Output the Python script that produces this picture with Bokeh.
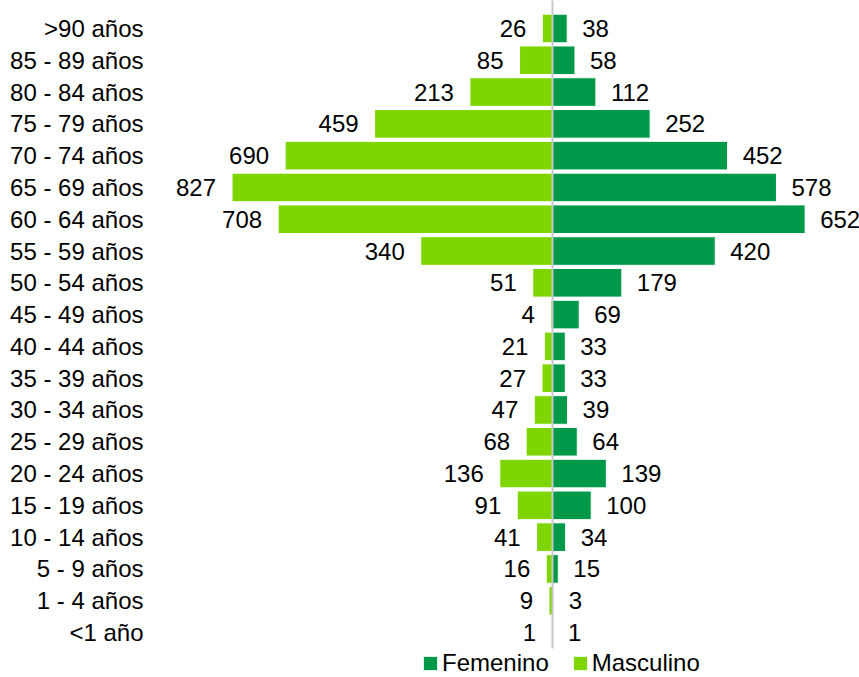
from bokeh.plotting import figure
from bokeh.models import ColumnDataSource, Range1d, FixedTicker, Legend, LegendItem
from bokeh.core.properties import value
from bokeh.embed import file_html
from bokeh.resources import INLINE

categories = [">90 años", "85 - 89 años", "80 - 84 años", "75 - 79 años", "70 - 74 años",
              "65 - 69 años", "60 - 64 años", "55 - 59 años", "50 - 54 años", "45 - 49 años",
              "40 - 44 años", "35 - 39 años", "30 - 34 años", "25 - 29 años", "20 - 24 años",
              "15 - 19 años", "10 - 14 años", "5 - 9 años", "1 - 4 años", "<1 año"]
masculino = [26, 85, 213, 459, 690, 827, 708, 340, 51, 4, 21, 27, 47, 68, 136, 91, 41, 16, 9, 1]
femenino = [38, 58, 112, 252, 452, 578, 652, 420, 179, 69, 33, 33, 39, 64, 139, 100, 34, 15, 3, 1]

FONT = "Liberation Sans"
FS = "24px"
C_FEM = "#00994A"
C_MAS = "#7ED500"

n = len(categories)
ypos = [n - 1 - i for i in range(n)]

src = ColumnDataSource(dict(
    y=ypos,
    fem=femenino,
    mas=[-v for v in masculino],
    fem_lbl=[str(v) for v in femenino],
    mas_lbl=[str(v) for v in masculino],
))

p = figure(width=859, height=677, output_backend="svg", toolbar_location=None,
           x_range=Range1d(-1024.5, 792.3), y_range=Range1d(-1.415, n - 1 + 0.88),
           min_border_left=155, min_border_right=0, min_border_top=0, min_border_bottom=0)

r_fem = p.hbar(y="y", left=0, right="fem", height=0.9, source=src,
               fill_color=C_FEM, line_color="white", line_width=1)
r_mas = p.hbar(y="y", left="mas", right=0, height=0.9, source=src,
               fill_color=C_MAS, line_color="white", line_width=1)

p.segment(x0=0, y0=-0.5, x1=0, y1=n, line_color="#C8C8C8", line_width=2)

p.text(x="fem", y="y", text="fem_lbl", source=src, x_offset=15, text_align="left",
       text_baseline="middle", text_font=value(FONT), text_font_size=FS, text_color="#000000")
p.text(x="mas", y="y", text="mas_lbl", source=src, x_offset=-16, text_align="right",
       text_baseline="middle", text_font=value(FONT), text_font_size=FS, text_color="#000000")

p.xaxis.visible = False
p.xgrid.visible = False
p.ygrid.visible = False
p.outline_line_color = None

ax = p.yaxis[0]
ax.ticker = FixedTicker(ticks=ypos)
ax.major_label_overrides = {y: c for y, c in zip(ypos, categories)}
ax.axis_line_color = None
ax.major_tick_line_color = None
ax.minor_tick_line_color = None
ax.major_tick_out = 0
ax.major_label_standoff = 12
ax.major_label_text_font = FONT
ax.major_label_text_font_size = FS
ax.major_label_text_color = "#000000"

legend = Legend(items=[LegendItem(label="Femenino", renderers=[r_fem]),
                       LegendItem(label="Masculino", renderers=[r_mas])],
                orientation="horizontal", location=(266, 0),
                glyph_width=18, glyph_height=18, label_standoff=3, spacing=22,
                padding=0, margin=0, border_line_color=None, background_fill_alpha=0,
                label_text_font=FONT, label_text_font_size=FS, label_text_color="#000000")
p.add_layout(legend)

open("out.html", "w").write(file_html(p, INLINE))
